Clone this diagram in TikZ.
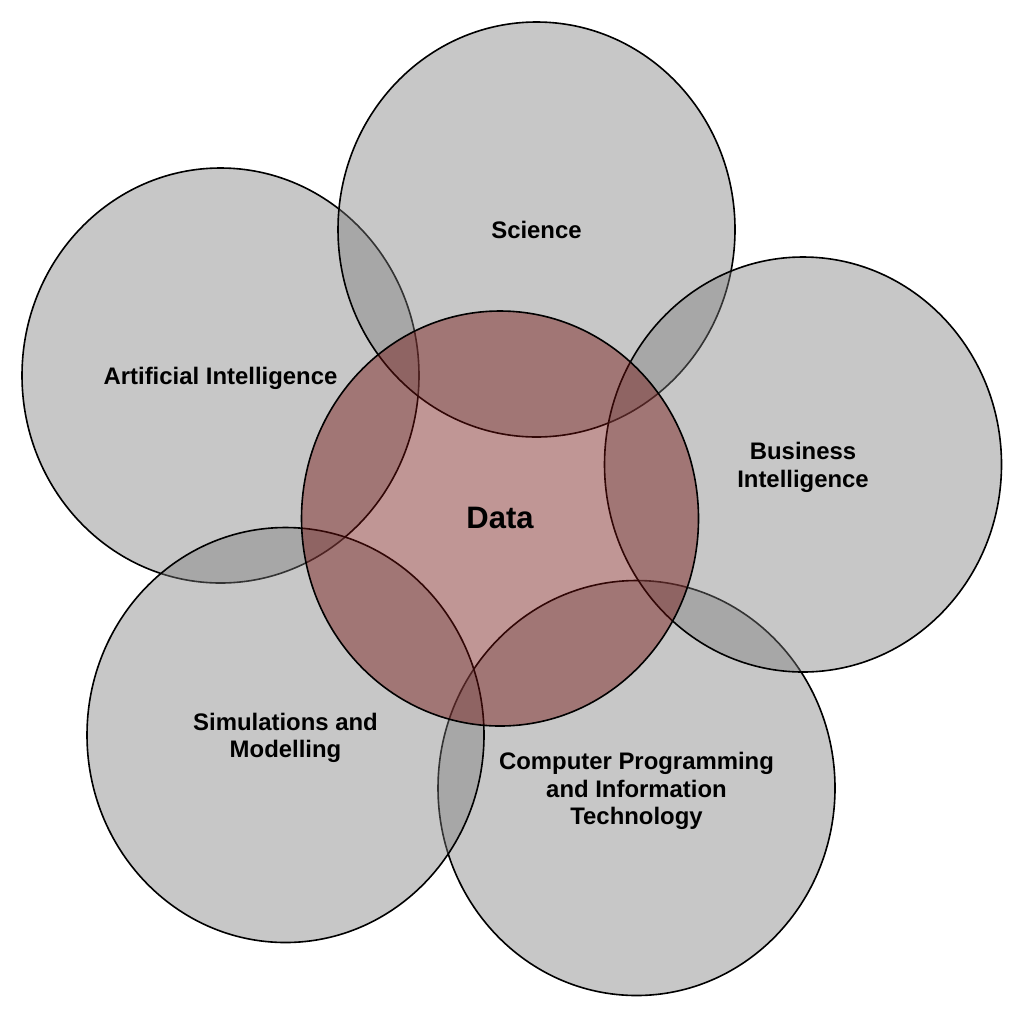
\documentclass[tikz,border=0pt]{standalone}
\usepackage{fontspec}
\setmainfont{Liberation Sans}
\usetikzlibrary{shapes.geometric}
\definecolor{circgray}{RGB}{123,123,123}
\definecolor{datared}{RGB}{113,16,14}
\begin{document}
\begin{tikzpicture}[x=1pt,y=-1pt,
  field/.style={ellipse, draw=black, line width=1.6pt, fill=circgray, fill opacity=0.42,
    minimum width=397pt, minimum height=415pt, inner sep=0pt},
  datafield/.style={field, fill=datared, fill opacity=0.44},
  lbl/.style={font=\fontsize{23.9}{27.5}\selectfont\bfseries, align=center, text=black,
    inner sep=0pt, anchor=north},
  datalbl/.style={font=\fontsize{31}{36}\selectfont\bfseries, text=black, inner sep=0pt, anchor=north}]
\useasboundingbox (0,0) rectangle (1024,1018);
\fill[white] (0,0) rectangle (1024,1018);
% circles (stacking order as in the reference)
\node[field] (cp)  at (636.5,788) {};
\node[field] (ai)  at (220.5,375.5) {};
\node[field] (sci) at (536.5,229.5) {};
\node[field] (bi)  at (803,464.5) {};
\node[field] (sim) at (285.5,735) {};
\node[datafield] (data) at (500,518.5) {};
% labels
\node[lbl] (tsci) at ([yshift=8.55pt]sci.center) {Science};
\node[lbl] (tai)  at ([yshift=8.55pt]ai.center) {Artificial Intelligence};
\node[lbl] (tbi)  at ([yshift=22.3pt]bi.center) {Business\\Intelligence};
\node[lbl] (tsim) at ([yshift=22.3pt]sim.center) {Simulations and\\Modelling};
\node[lbl] (tcp)  at ([yshift=36pt]cp.center) {Computer Programming\\and Information\\Technology};
\node[datalbl] (tdata) at ([yshift=11.1pt]data.center) {Data};
\end{tikzpicture}
\end{document}
